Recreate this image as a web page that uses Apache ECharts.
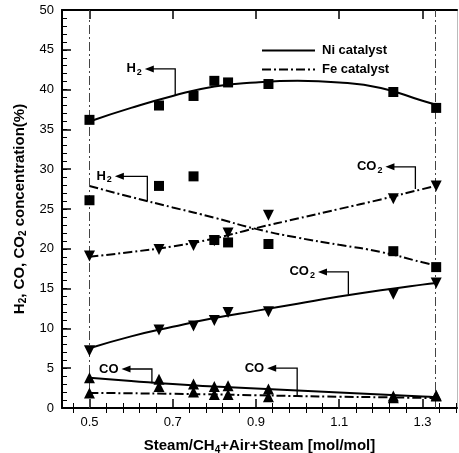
<!DOCTYPE html>
<html><head><meta charset="utf-8">
<script src="https://cdn.jsdelivr.net/npm/echarts@6/dist/echarts.min.js"></script>
<style>html,body{margin:0;padding:0;background:#fff}#c{width:459px;height:453px}</style>
</head><body><div id="c"></div>
<script>
// ---- data ----
var pointX = [0.5, 0.667, 0.75, 0.8, 0.833, 0.93, 1.23, 1.333];
var niH2Pts  = [36.2, 38.0, 39.2, 41.1, 40.9, 40.7, 39.7, 37.7];
var feH2Pts  = [26.1, 27.9, 29.1, 21.1, 20.8, 20.6, 19.7, 17.7];
var niCO2Pts = [7.2, 9.8, 10.3, 11.0, 12.0, 12.1, 14.3, 15.7];
var feCO2Pts = [19.1, 19.9, 20.4, 21.0, 22.0, 24.2, 26.3, 27.9];
var niCOPts  = [3.8, 3.6, 3.0, 2.7, 2.8, 2.4, 1.5, 1.6];
var feCOPts  = [1.9, 2.7, 2.0, 1.7, 1.7, 1.4, 1.3, 1.5];

var curveX   = [0.5, 0.6, 0.7, 0.8, 0.9, 1.0, 1.1, 1.2, 1.3, 1.333];
var niH2Fit  = [36.0, 37.7, 39.2, 40.4, 40.9, 41.1, 40.9, 40.2, 38.6, 38.1];
var feH2Fit  = [27.9, 26.5, 25.2, 23.9, 22.5, 21.4, 20.5, 19.6, 18.3, 17.9];
var niCO2Fit = [7.5, 9.0, 10.2, 11.3, 12.2, 13.1, 14.0, 14.8, 15.5, 15.7];
var feCO2Fit = [19.0, 19.6, 20.3, 21.3, 22.6, 23.8, 25.0, 26.2, 27.5, 27.9];
var niCOFit  = [3.8, 3.4, 3.0, 2.7, 2.45, 2.2, 1.95, 1.7, 1.45, 1.35];
var feCOFit  = [1.9, 1.85, 1.78, 1.7, 1.6, 1.5, 1.42, 1.35, 1.27, 1.25];

var refLinesX = [0.5, 1.334];
var xMajorTicks = [0.5, 0.7, 0.9, 1.1, 1.3];
var xMinorTicks = [0.46, 0.54, 0.58, 0.62, 0.66, 0.74, 0.78, 0.82, 0.86, 0.94, 0.98, 1.02, 1.06, 1.14, 1.18, 1.22, 1.26, 1.34, 1.38];

// annotations: leader from curve up, then left with arrow to label
var annLabels = ['{b|H}{s|2}', '{b|H}{s|2}', '{b|CO}{s|2}', '{b|CO}{s|2}', '{b|CO}', '{b|CO}'];
var annX      = [0.706, 0.639, 1.283, 1.122, 0.65, 0.999];
var annYFrom  = [39.3, 26.0, 27.5, 14.3, 3.1, 1.55];
var annYTop   = [42.6, 29.1, 30.3, 17.1, 4.9, 5.0];
var annXEnd   = [0.633, 0.561, 1.211, 1.049, 0.577, 0.927];

function pairs(xs, ys){ return xs.map(function(x,i){ return [x, ys[i]]; }); }

var FONT = 'Liberation Sans, Arial, Helvetica, sans-serif';
var dashDot = [9, 3, 2, 3];
var richSub = {
  b: {fontSize: 13, fontWeight: 'bold', fontFamily: FONT, color: '#000'},
  s: {fontSize: 9, fontWeight: 'bold', fontFamily: FONT, color: '#000', padding: [7, 0, 0, 1]}
};

function lineSeries(name, ys, dashed){
  return {type: 'line', name: name, data: pairs(curveX, ys), smooth: true, symbol: 'none',
    itemStyle: {color: '#000'},
    lineStyle: {color: '#000', width: 2, type: dashed ? dashDot : 'solid'}, z: 3};
}
function scatterSeries(ys, sym, rot){
  return {type: 'scatter', data: pairs(pointX, ys), symbol: sym, symbolSize: sym === 'rect' ? 10 : 11,
    symbolRotate: rot || 0, itemStyle: {color: '#000', opacity: 1}, z: 5};
}

var annData = annX.map(function(x, i){ return [x, annYFrom[i], annYTop[i], annXEnd[i], i]; });

function tick(len, w, vals){
  var t = {show: true, inside: true, length: len, lineStyle: {color: '#000', width: w}};
  if (vals) t.customValues = vals;
  return t;
}
function xAx(pos, withLine, ticks, len, w, labels){
  return {type: 'value', min: 0.434, max: 1.383, position: pos,
    axisLine: withLine ? {show: true, onZero: false, lineStyle: {color: '#000', width: 2}} : {show: false},
    axisTick: tick(len, w, ticks),
    axisLabel: labels ? {customValues: ticks, color: '#000', fontSize: 13, fontFamily: FONT, margin: 8,
        formatter: function(v){ return v.toFixed(1); }} : {show: false},
    splitLine: {show: false}};
}

var xBottom = xAx('bottom', true, xMajorTicks, 9, 1.5, true);
xBottom.name = '{b|Steam/CH}{s|4}{b|+Air+Steam [mol/mol]}';
xBottom.nameLocation = 'middle';
xBottom.nameGap = 29;
xBottom.nameTextStyle = {rich: {
  b: {fontSize: 15, fontWeight: 'bold', fontFamily: FONT, color: '#000'},
  s: {fontSize: 10, fontWeight: 'bold', fontFamily: FONT, color: '#000', padding: [8, 0, 0, 0]}}};

var chart = echarts.init(document.getElementById('c'));
chart.setOption({
  animation: false,
  backgroundColor: '#fff',
  grid: {left: 62, right: 2, top: 10, bottom: 45, outerBoundsMode: 'none'},
  legend: {
    data: ['Ni catalyst', 'Fe catalyst'], orient: 'vertical', left: 256, top: 39,
    itemWidth: 53, itemHeight: 12, itemGap: 6,
    itemStyle: {opacity: 0},
    lineStyle: {color: '#000', width: 2},
    textStyle: {fontFamily: FONT, fontSize: 13, fontWeight: 'bold', color: '#000', padding: [0,0,0,2]}
  },
  xAxis: [
    xBottom,
    xAx('bottom', false, xMinorTicks, 5, 1, false),
    xAx('top', true, xMajorTicks, 9, 1.5, false),
    xAx('top', false, xMinorTicks, 5, 1, false)
  ],
  yAxis: [
    {type: 'value', min: 0, max: 50, interval: 5, position: 'left',
      axisLine: {show: true, onZero: false, lineStyle: {color: '#000', width: 2}},
      axisTick: tick(9, 1.5),
      axisLabel: {color: '#000', fontSize: 13, fontFamily: FONT, margin: 8},
      splitLine: {show: false},
      name: '{b|H}{s|2}{b|, CO, CO}{s|2}{b| concentration(%)}', nameLocation: 'middle', nameGap: 33,
      nameTextStyle: {rich: {
        b: {fontSize: 15, fontWeight: 'bold', fontFamily: FONT, color: '#000'},
        s: {fontSize: 10, fontWeight: 'bold', fontFamily: FONT, color: '#000', padding: [8, 0, 0, 0]}}}
    },
    {type: 'value', min: 0, max: 50, interval: 1, position: 'left',
      axisLine: {show: false}, axisTick: tick(5, 1),
      axisLabel: {show: false}, splitLine: {show: false}},
    {type: 'value', min: 0, max: 50, position: 'right',
      axisLine: {show: true, onZero: false, lineStyle: {color: '#bbb', width: 1}},
      axisTick: {show: false}, axisLabel: {show: false}, splitLine: {show: false}}
  ],
  series: [
    lineSeries('Ni catalyst', niH2Fit, false),
    lineSeries('Fe catalyst', feH2Fit, true),
    lineSeries('Ni CO2', niCO2Fit, false),
    lineSeries('Fe CO2', feCO2Fit, true),
    lineSeries('Ni CO', niCOFit, false),
    lineSeries('Fe CO', feCOFit, true),
    scatterSeries(niH2Pts, 'rect'),
    scatterSeries(feH2Pts, 'rect'),
    scatterSeries(niCO2Pts, 'triangle', 180),
    scatterSeries(feCO2Pts, 'triangle', 180),
    scatterSeries(niCOPts, 'triangle'),
    scatterSeries(feCOPts, 'triangle'),
    {type: 'line', data: [], markLine: {silent: true, symbol: 'none', label: {show: false},
      lineStyle: {color: '#444', width: 1, type: dashDot},
      data: refLinesX.map(function(x){ return {xAxis: x}; })}},
    {type: 'custom', z: 6, data: annData,
      renderItem: function(params, api){
        var p0 = api.coord([api.value(0), api.value(1)]);
        var p1 = api.coord([api.value(0), api.value(2)]);
        var p2 = api.coord([api.value(3), api.value(2)]);
        var idx = api.value(4);
        var ah = 9, aw = 3.5;
        return {type: 'group', children: [
          {type: 'polyline', shape: {points: [p0, p1, [p2[0] + ah - 1, p2[1]]]},
            style: {stroke: '#000', lineWidth: 1.3, fill: null}},
          {type: 'polygon', shape: {points: [[p2[0], p2[1]], [p2[0] + ah, p2[1] - aw], [p2[0] + ah, p2[1] + aw]]},
            style: {fill: '#000'}},
          {type: 'text', style: {text: annLabels[idx], x: p2[0] - 3, y: p2[1], align: 'right',
            verticalAlign: 'middle', rich: richSub}}
        ]};
      }}
  ]
});
</script></body></html>
